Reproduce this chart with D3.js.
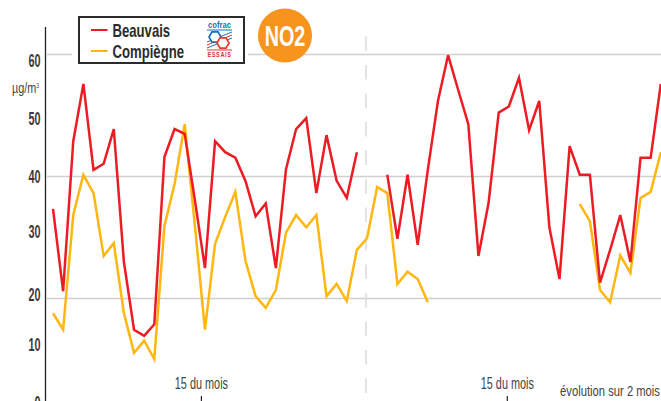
<!DOCTYPE html>
<html><head><meta charset="utf-8">
<script src="https://cdn.jsdelivr.net/npm/d3@7/dist/d3.min.js"></script>
<style>html,body{margin:0;padding:0;background:#fff;overflow:hidden}svg{display:block}
text{font-family:"Liberation Sans",sans-serif}</style></head>
<body><svg id="c" width="661" height="401"></svg>
<script>
const beauvais=[34.6,21.1,45.7,55.1,41.0,42.0,47.7,25.9,14.8,13.8,15.7,43.1,47.7,46.9,36.1,24.9,45.7,43.9,43.0,39.2,33.4,35.5,24.9,41.1,47.7,49.5,37.2,46.7,39.2,36.4,43.9,null,null,40.2,29.7,40.2,28.7,41.0,52.3,59.8,54.1,48.5,26.9,35.6,50.4,51.4,56.1,47.5,52.3,31.6,23.1,44.9,40.2,40.2,22.5,27.9,33.6,25.9,43.0,43.0,55.1];
const compiegne=[17.5,14.8,33.6,40.2,37.2,26.9,29.0,17.5,11.0,13.0,10.0,31.8,38.7,48.5,32.0,14.8,28.9,33.3,37.4,26.1,20.3,18.4,21.3,30.7,33.6,31.6,33.6,20.3,22.3,19.5,27.9,29.8,38.2,37.2,22.3,24.3,23.1,19.3,null,null,null,null,null,null,null,null,null,null,null,null,null,null,35.4,32.6,21.3,19.3,27.0,24.1,36.4,37.4,43.9];
const gridValues=[20,40,60];
const tickLabels=[0,10,20,30,40,50,60];
const seriesNames=["Beauvais","Compiègne"];
const seriesColors=["#ed1c24","#ffb60f"];
const midMonthDays=[14.65,44.85];
const midMonthLabel="15 du mois";

const svg=d3.select("#c");
const x=d3.scaleLinear().domain([0,60]).range([53,660.8]);
const y=d3.scaleLinear().domain([0,60]).range([420,54]);
const labelY=d3.scaleLinear().domain(tickLabels).range([403,345,295,232,177,119,61]);

// horizontally condensed text, since no condensed face is installed
function label(parent,px,py,sx,size,txt,opt={}){
  return parent.append("text").attr("transform",`translate(${px},${py}) scale(${sx},1)`)
    .attr("text-anchor",opt.anchor||"start").attr("font-size",size)
    .attr("font-weight",opt.weight||"400").attr("fill",opt.fill||"#444").text(txt);
}

svg.append("g").attr("transform","translate(47,0)")
  .call(d3.axisLeft(y).tickValues(gridValues).tickSize(-614).tickFormat(""))
  .call(g=>g.select(".domain").remove())
  .selectAll("line").attr("stroke","#cfcfcf").attr("stroke-width",1.4);

svg.append("line").attr("x1",366).attr("x2",366).attr("y1",36.5).attr("y2",401)
  .attr("stroke","#dcdcdc").attr("stroke-width",1.6).attr("stroke-dasharray","14.5 14");

svg.append("line").attr("x1",45.5).attr("x2",45.5).attr("y1",27).attr("y2",401)
  .attr("stroke","#222").attr("stroke-width",1.3);
const tg=svg.append("g");
tickLabels.forEach(d=>label(tg,40.5,labelY(d)+6.3,.62,17.5,d,{anchor:"end",weight:"700",fill:"#3a3a3c"}));
const unit=label(svg,12,93,.72,15,"");
unit.append("tspan").text("µg/m");
unit.append("tspan").attr("font-size",7).attr("dy",-5).text("3");

const line=d3.line().defined(d=>d!==null).x((d,i)=>x(i)).y(d=>y(d));
[[compiegne,1],[beauvais,0]].forEach(([s,k])=>{
  svg.append("path").datum(s).attr("d",line).attr("fill","none")
    .attr("stroke",seriesColors[k]).attr("stroke-width",2.5).attr("stroke-linejoin","miter");
});

midMonthDays.forEach(d=>{
  const px=x(d);
  svg.append("line").attr("x1",px).attr("x2",px).attr("y1",396).attr("y2",401).attr("stroke","#222").attr("stroke-width",1.2);
  label(svg,px,389,.68,16,midMonthLabel,{anchor:"middle"});
});
label(svg,660,396,.75,15,"évolution sur 2 mois",{anchor:"end"});

svg.append("rect").attr("x",72).attr("y",15).attr("width",176).attr("height",50).attr("fill","#fff");
svg.append("rect").attr("x",79).attr("y",17).attr("width",165).attr("height",46).attr("fill","#fff").attr("stroke","#2b2b2d").attr("stroke-width",2);
seriesNames.forEach((n,i)=>{
  const ly=30+i*21;
  svg.append("line").attr("x1",91).attr("x2",107.5).attr("y1",ly).attr("y2",ly).attr("stroke",seriesColors[i]).attr("stroke-width",2);
  label(svg,112.5,ly+6.5,.73,18,n,{weight:"700",fill:"#2b2b2d"});
});

const logo=svg.append("g");
label(logo,219.5,27.5,.85,9,"cofrac",{anchor:"middle",weight:"700",fill:"#1a6fb5"});
logo.append("line").attr("x1",207).attr("x2",232).attr("y1",30).attr("y2",30).attr("stroke","#1a6fb5").attr("stroke-width",1);
[0,1,2].forEach(i=>logo.append("line").attr("x1",207).attr("x2",232).attr("y1",42+i*3).attr("y2",32+i*3).attr("stroke",i==1?"#e8392e":"#1a6fb5").attr("stroke-width",1));
const hex=(cx,cy,r,c)=>logo.append("polygon").attr("points",d3.range(6).map(k=>[cx+r*Math.cos(k*Math.PI/3),cy+r*Math.sin(k*Math.PI/3)].join(",")).join(" ")).attr("fill","#fff").attr("stroke",c).attr("stroke-width",1.7);
hex(215,37,6,"#1a6fb5");
hex(223,43,6,"#e8392e");
logo.append("line").attr("x1",207).attr("x2",232).attr("y1",50).attr("y2",50).attr("stroke","#e8392e").attr("stroke-width",1);
label(logo,219.5,57,.75,7.5,"ESSAIS",{anchor:"middle",weight:"700",fill:"#d9342b"}).attr("letter-spacing",.8);

svg.append("circle").attr("cx",285).attr("cy",35.5).attr("r",27).attr("fill","#f7941e");
label(svg,285,46,.66,30,"NO2",{anchor:"middle",weight:"700",fill:"#fff"});
</script></body></html>
